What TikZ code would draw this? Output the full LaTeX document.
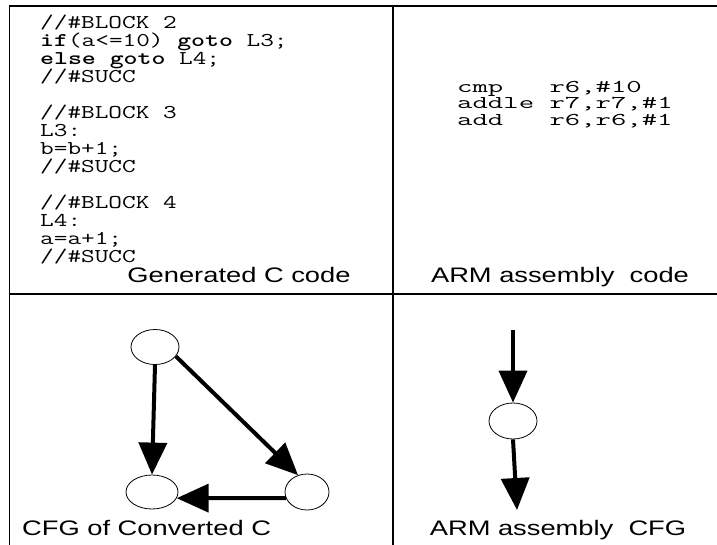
\documentclass[tikz,border=0pt]{standalone}
\usepackage{fontspec}
\usetikzlibrary{arrows.meta,shapes.geometric}
\newfontfamily\labelfont{Liberation Sans}
\newcommand\widecode[1]{\scalebox{1.36}[1]{#1}}
\newcommand\widearm[1]{\scalebox{1.66}[1]{#1}}
\newcommand\widelabel[1]{\scalebox{1.3}[1]{#1}}
\tikzset{
  frame/.style={line width=1.5pt, line cap=rect},
  block/.style={draw, ellipse, line width=0.8pt, inner sep=0pt},
  flow/.style={line width=4pt, -{Triangle[length=32pt,width=28pt]}},
  cline/.style={anchor=base west, inner sep=0pt, font=\ttfamily\fontsize{19.5}{18}\selectfont},
  aline/.style={anchor=base west, inner sep=0pt, font=\ttfamily\fontsize{18}{16}\selectfont},
  caption/.style={anchor=base, inner sep=0pt, font=\labelfont\fontsize{21}{24}\selectfont},
}
\begin{document}
\begin{tikzpicture}[x=1pt,y=-1pt]
\useasboundingbox (0,0) rectangle (717,544);
% panel grid
\draw[frame] (9.5,544) -- (9.5,6) -- (717,6);
\draw[frame] (393,6) -- (393,544);
\draw[frame] (9.5,294) -- (717,294);

% generated C code
\node[cline] (c1)  at (40,28.5)  {\widecode{//\#BLOCK 2}};
\node[cline] (c2)  at (40,46.5)  {\widecode{\textbf{if}(a<=10) \textbf{goto} L3;}};
\node[cline] (c3)  at (40,64.5)  {\widecode{\textbf{else goto} L4;}};
\node[cline] (c4)  at (40,82.5)  {\widecode{//\#SUCC}};
\node[cline] (c5)  at (40,118.5) {\widecode{//\#BLOCK 3}};
\node[cline] (c6)  at (40,136.5) {\widecode{L3:}};
\node[cline] (c7)  at (40,154.5) {\widecode{b=b+1;}};
\node[cline] (c8)  at (40,172.5) {\widecode{//\#SUCC}};
\node[cline] (c9)  at (40,208.5) {\widecode{//\#BLOCK 4}};
\node[cline] (c10) at (40,226.5) {\widecode{L4:}};
\node[cline] (c11) at (40,244.5) {\widecode{a=a+1;}};
\node[cline] (c12) at (40,262.5) {\widecode{//\#SUCC}};
\node[caption] (capc) at (239,282.5) {\widelabel{Generated C code}};

% ARM assembly code
\node[aline] (a1) at (457,92)    {\widearm{cmp\ \ \ r6,\#10}};
\node[aline] (a2) at (457,108.5) {\widearm{addle r7,r7,\#1}};
\node[aline] (a3) at (457,125)   {\widearm{add\ \ \ r6,r6,\#1}};
\node[caption] (capa) at (560,282.5) {\widelabel{ARM assembly\ \ code}};

% CFG of the converted C code
\node[block, minimum width=48pt, minimum height=35pt] (t)  at (155,347) {};
\node[block, minimum width=52pt, minimum height=34pt] (bl) at (152,492) {};
\node[block, minimum width=44pt, minimum height=36pt] (br) at (307,492) {};
\draw[flow] (t.south) -- (bl.north);
\draw[flow] (t.-24) -- (br.118);
\draw[flow] (br.196) -- (bl.-14);
\node[caption, anchor=base west] (capg) at (22,535) {\widelabel{CFG of Converted C}};

% CFG of the ARM assembly code
\coordinate (ain) at (513,330);
\node[block, minimum width=48pt, minimum height=36pt] (ab) at (513,421) {};
\coordinate (aout) at (517,510);
\draw[flow] (ain) -- (ab.north);
\draw[flow] (ab.south) -- (aout);
\node[caption] (capf) at (558,535) {\widelabel{ARM assembly\ \ CFG}};
\end{tikzpicture}
\end{document}
